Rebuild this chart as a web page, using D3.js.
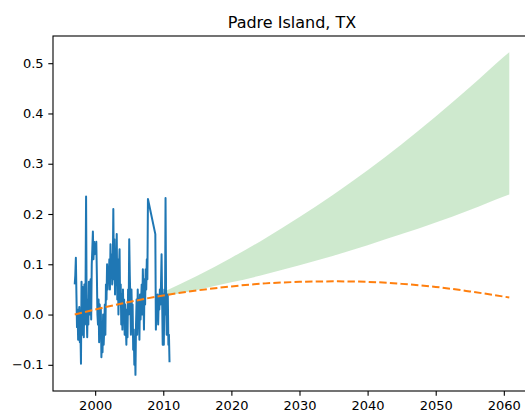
<!DOCTYPE html>
<html>
<head>
<meta charset="utf-8">
<script src="https://cdn.jsdelivr.net/npm/d3@7"></script>
<style>
  body { margin: 0; background: #fff; }
  svg { display: block; font-family: "DejaVu Sans", sans-serif; }
</style>
</head>
<body>
<svg id="chart" width="525" height="414"></svg>
<script>
"use strict";

// observed monthly anomaly, one array per year (null = missing month)
var obsFirstYear = 1997;
var obsMonthly = [
  [0.060, 0.078, 0.113, 0.040, -0.025, 0.010, -0.050, -0.030, 0.015, -0.055, -0.030, -0.098],
  [0.065, -0.040, 0.055, 0.020, -0.045, 0.060, -0.020, 0.040, 0.235, 0.010, -0.045, 0.030],
  [-0.020, 0.065, 0.000, 0.060, 0.070, -0.010, 0.100, 0.130, 0.165, 0.110, 0.145, 0.120],
  [0.140, 0.130, 0.145, 0.080, 0.000, -0.020, 0.030, -0.055, 0.020, -0.030, 0.010, -0.085],
  [-0.040, -0.075, 0.000, -0.060, -0.030, 0.020, -0.040, 0.060, 0.030, 0.100, 0.050, 0.090],
  [0.070, 0.110, 0.050, 0.140, 0.080, 0.120, 0.060, 0.085, 0.210, 0.070, 0.150, 0.040],
  [0.130, 0.060, 0.160, 0.030, 0.110, 0.000, 0.090, 0.130, 0.020, 0.060, -0.020, 0.040],
  [-0.030, 0.050, -0.010, 0.030, -0.040, 0.020, -0.020, -0.060, 0.010, -0.045, 0.050, 0.000],
  [0.150, 0.080, 0.030, -0.040, 0.050, -0.010, 0.020, -0.070, -0.030, -0.100, -0.050, -0.120],
  [-0.020, 0.030, -0.040, 0.050, 0.000, 0.020, -0.050, 0.040, -0.010, 0.030, 0.060, 0.000],
  [0.090, 0.040, -0.030, 0.070, 0.020, 0.090, 0.050, 0.110, 0.070, 0.230, null, null],
  [null, null, null, null, null, null, null, null, null, null, 0.160, -0.030],
  [0.020, 0.000, 0.040, -0.020, 0.030, 0.010, 0.050, 0.020, 0.060, 0.120, 0.030, -0.060],
  [0.040, -0.060, 0.050, 0.000, 0.232, 0.030, -0.040, 0.020, 0.040, -0.060, -0.040, -0.095]
];

// fitted trend (orange dashed)
var trendYears  = [1997, 2000, 2005, 2010, 2015, 2020, 2025, 2030, 2035, 2040, 2045, 2050, 2055, 2060.8];
var trendValues = [0.000, 0.010, 0.025, 0.038, 0.048, 0.056, 0.062, 0.065, 0.066, 0.065, 0.061, 0.055, 0.046, 0.034];

// projection band (green)
var bandYears = [2010, 2015, 2020, 2025, 2030, 2035, 2040, 2045, 2050, 2055, 2060, 2060.8];
var bandLow   = [0.036, 0.049, 0.064, 0.080, 0.098, 0.117, 0.138, 0.160, 0.183, 0.208, 0.235, 0.239];
var bandHigh  = [0.045, 0.077, 0.113, 0.152, 0.194, 0.239, 0.287, 0.339, 0.394, 0.452, 0.513, 0.522];

var xTicks = [2000, 2010, 2020, 2030, 2040, 2050, 2060];
var yTicks = [-0.1, 0.0, 0.1, 0.2, 0.3, 0.4, 0.5];
var title = "Padre Island, TX";

// build observed series
var obs = [];
obsMonthly.forEach(function(row, yi) {
  row.forEach(function(v, m) {
    if (v !== null) obs.push({ t: obsFirstYear + yi + m / 12, v: v });
  });
});
var trend = trendYears.map(function(t, i) { return { t: t, v: trendValues[i] }; });
var band = bandYears.map(function(t, i) { return { t: t, lo: bandLow[i], hi: bandHigh[i] }; });

var svg = d3.select("#chart");
var mLeft = 53, mTop = 36, mRight = 531, mBottom = 391;

// matplotlib style 5% margins
function padded(lo, hi) {
  var p = (hi - lo) * 0.05;
  return [lo - p, hi + p];
}
var allT = obs.map(function(d) { return d.t; }).concat(trendYears, bandYears);
var allV = obs.map(function(d) { return d.v; }).concat(trendValues, bandLow, bandHigh);

var x = d3.scaleLinear().domain(padded(d3.min(allT), d3.max(allT))).range([mLeft, mRight]);
var y = d3.scaleLinear().domain(padded(d3.min(allV), d3.max(allV))).range([mBottom, mTop]);

svg.append("clipPath").attr("id", "plotclip")
  .append("rect")
  .attr("x", mLeft).attr("y", mTop)
  .attr("width", mRight - mLeft).attr("height", mBottom - mTop);

var plot = svg.append("g").attr("clip-path", "url(#plotclip)");

// band
plot.append("path")
  .datum(band)
  .attr("fill", "#2ca02c")
  .attr("fill-opacity", 0.23)
  .attr("d", d3.area()
    .x(function(d) { return x(d.t); })
    .y0(function(d) { return y(d.lo); })
    .y1(function(d) { return y(d.hi); })
    .curve(d3.curveMonotoneX));

// observations
plot.append("path")
  .datum(obs)
  .attr("fill", "none")
  .attr("stroke", "#1f77b4")
  .attr("stroke-width", 2)
  .attr("stroke-linejoin", "round")
  .attr("d", d3.line()
    .x(function(d) { return x(d.t); })
    .y(function(d) { return y(d.v); }));

// trend
plot.append("path")
  .datum(trend)
  .attr("fill", "none")
  .attr("stroke", "#ff7f0e")
  .attr("stroke-width", 2)
  .attr("stroke-dasharray", "7.4,3.2")
  .attr("d", d3.line()
    .x(function(d) { return x(d.t); })
    .y(function(d) { return y(d.v); })
    .curve(d3.curveMonotoneX));

// axes
var xAxis = svg.append("g")
  .attr("transform", "translate(0," + mBottom + ")")
  .call(d3.axisBottom(x).tickValues(xTicks).tickFormat(d3.format("d"))
    .tickSizeInner(4.7).tickSizeOuter(0).tickPadding(4.7));

var yAxis = svg.append("g")
  .attr("transform", "translate(" + mLeft + ",0)")
  .call(d3.axisLeft(y).tickValues(yTicks).tickFormat(d3.format(".1f"))
    .tickSizeInner(4.7).tickSizeOuter(0).tickPadding(4.7));

[xAxis, yAxis].forEach(function(a) {
  a.select(".domain").remove();
  a.selectAll(".tick line").attr("stroke", "#000").attr("stroke-width", 1.1);
  a.selectAll(".tick text").attr("fill", "#000").style("font-size", "13px")
    .style("font-family", "DejaVu Sans, sans-serif");
});

// spines
svg.append("rect")
  .attr("x", mLeft).attr("y", mTop)
  .attr("width", mRight - mLeft).attr("height", mBottom - mTop)
  .attr("fill", "none")
  .attr("stroke", "#000")
  .attr("stroke-width", 1.1);

svg.append("text")
  .attr("x", (mLeft + mRight) / 2)
  .attr("y", mTop - 8.5)
  .attr("text-anchor", "middle")
  .style("font-size", "16px")
  .attr("fill", "#000")
  .text(title);
</script>
</body>
</html>
